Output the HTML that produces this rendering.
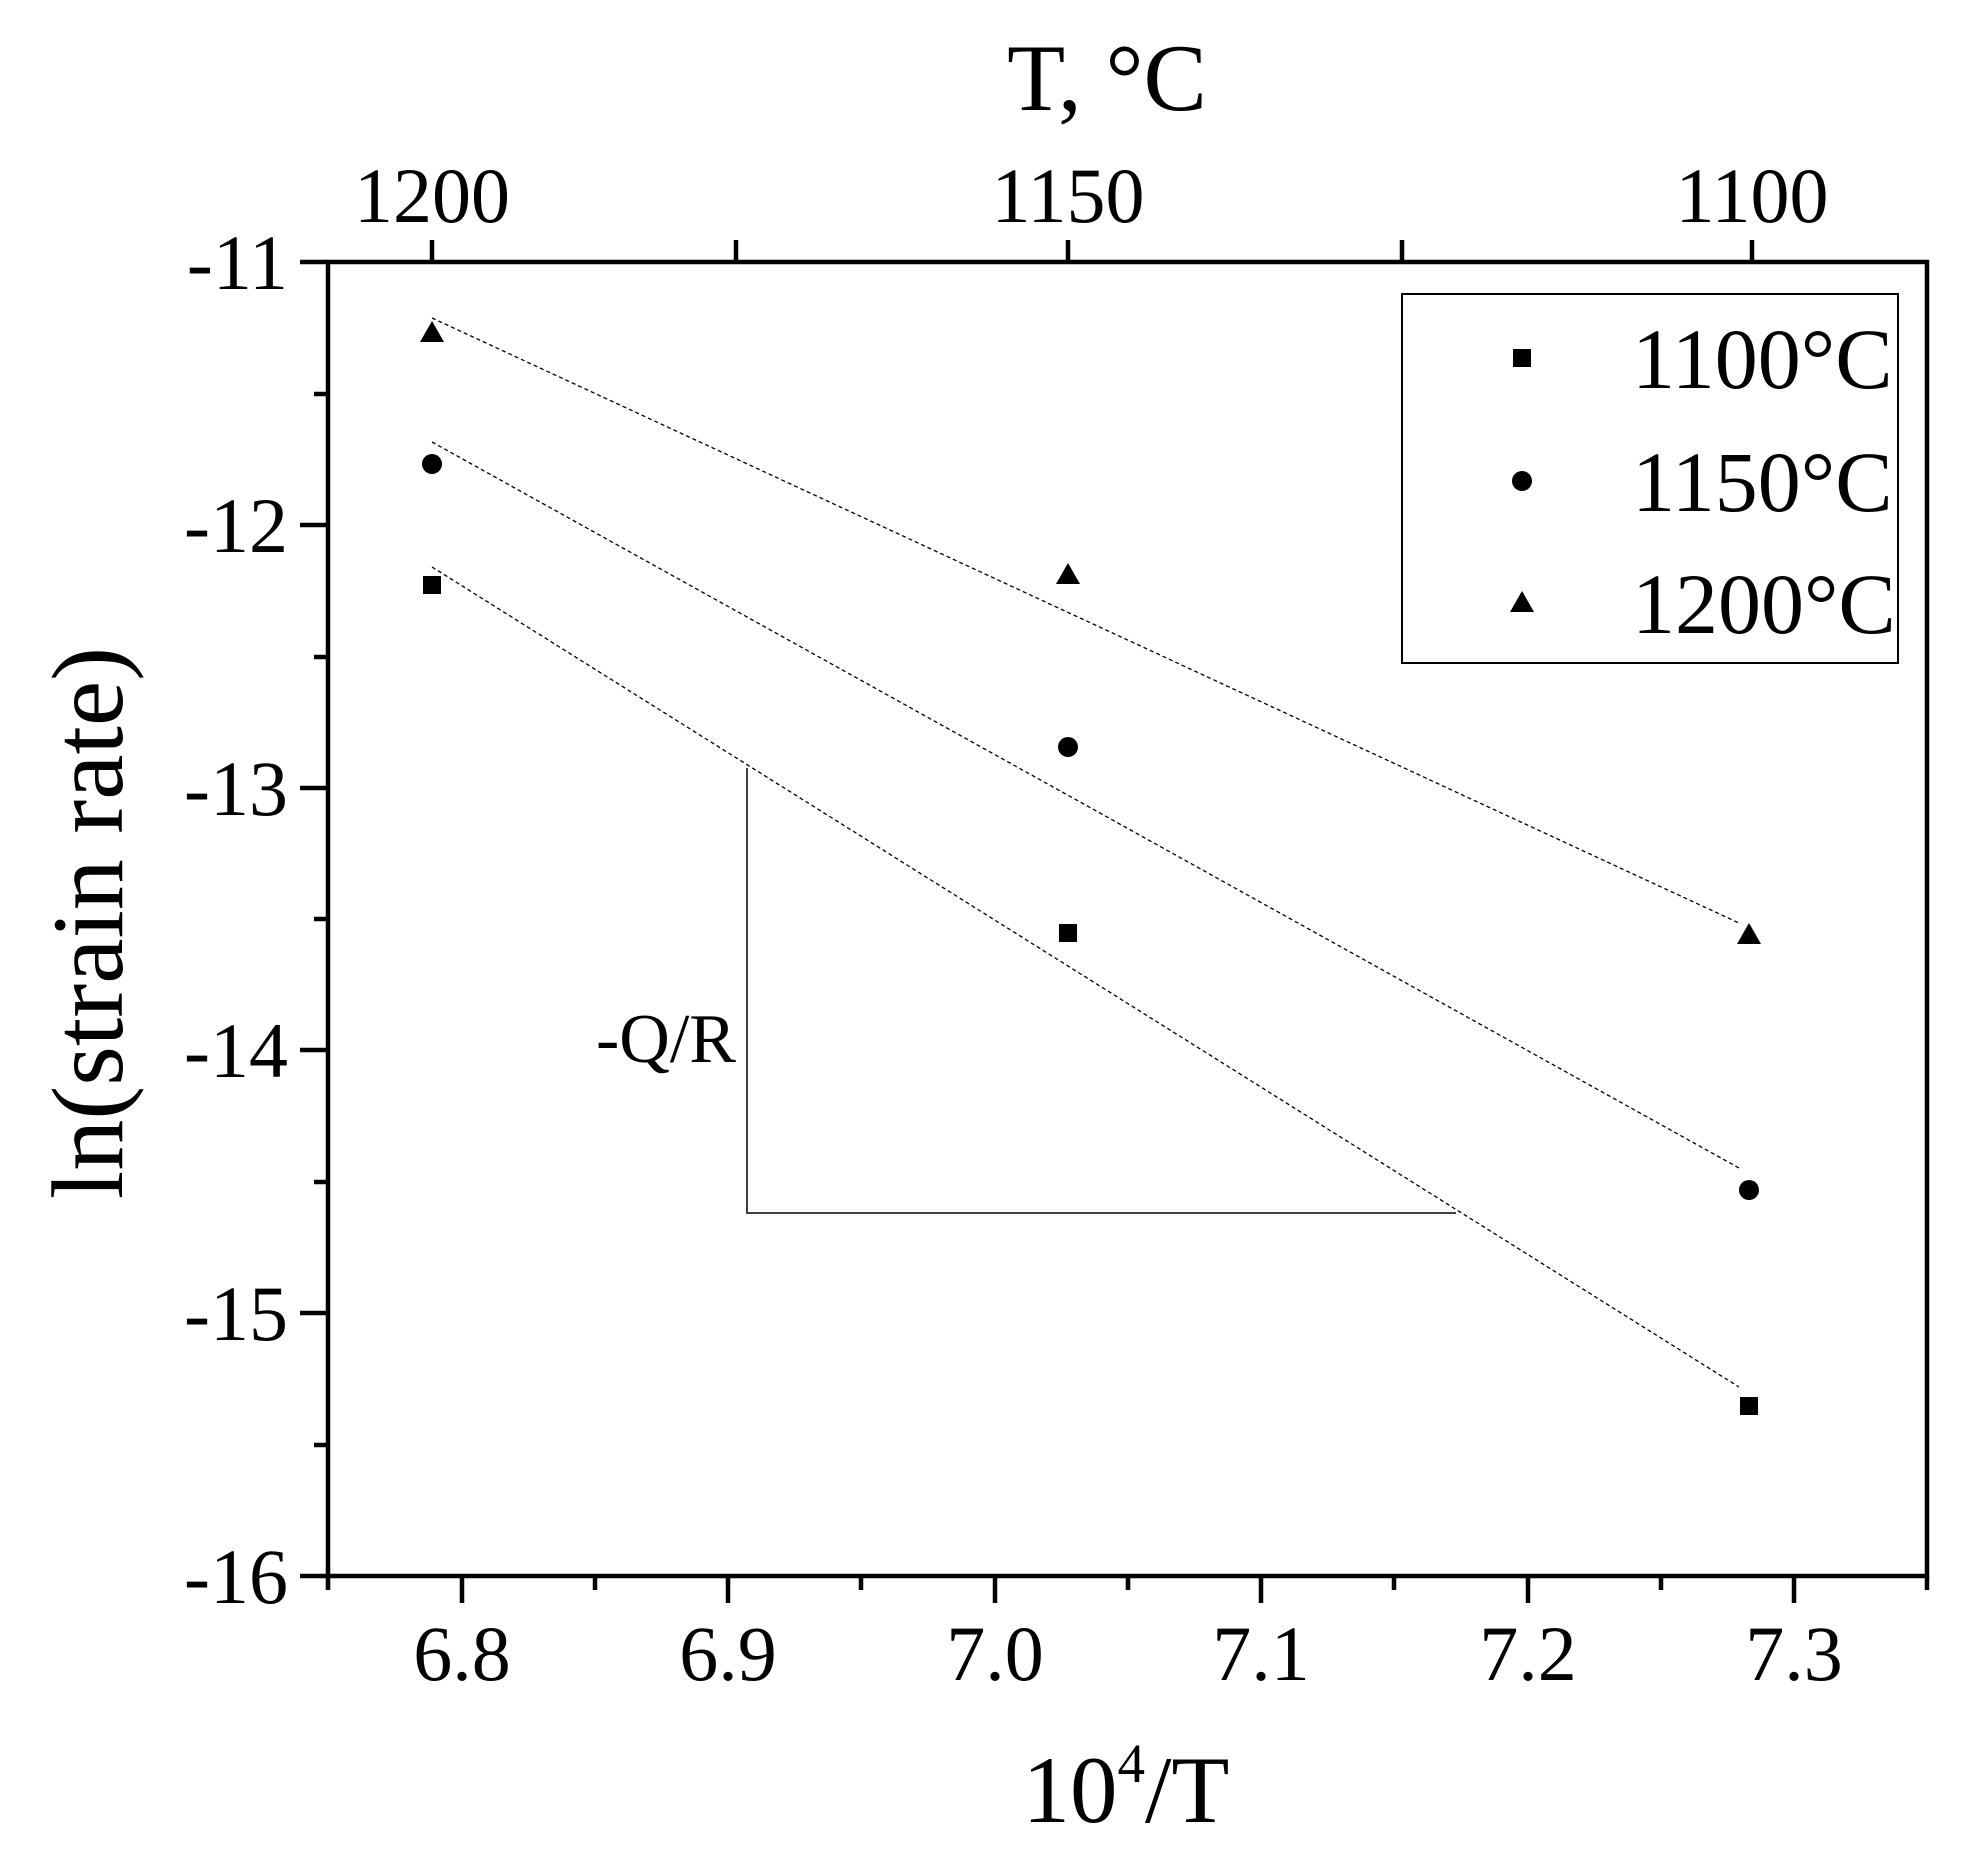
<!DOCTYPE html>
<html><head><meta charset="utf-8"><style>html,body{margin:0;padding:0;background:#fff}</style></head>
<body>
<svg width="1970" height="1869" viewBox="0 0 1970 1869" xmlns="http://www.w3.org/2000/svg" font-family="'Liberation Serif', serif" fill="#000">
<rect width="1970" height="1869" fill="#fff"/>
<g stroke="#000" stroke-width="4.5" fill="none">
<rect x="328" y="262" width="1599" height="1314"/>
<path d="M462,1576V1603 M728,1576V1603 M995,1576V1603 M1261,1576V1603 M1528,1576V1603 M1794,1576V1603
M328,1576V1590 M595,1576V1590 M861,1576V1590 M1128,1576V1590 M1394,1576V1590 M1661,1576V1590 M1927,1576V1590"/>
<path d="M300,262H328 M300,525H328 M300,788H328 M300,1050H328 M300,1313H328 M300,1576H328
M314,394H328 M314,657H328 M314,919H328 M314,1182H328 M314,1445H328"/>
<path d="M432,262V240 M1068,262V240 M1752,262V240 M736,262V240 M1402,262V240"/>
</g>
<g stroke="#000" stroke-width="1.3" stroke-dasharray="4,3" fill="none">
<line x1="432" y1="318" x2="1739" y2="923"/>
<line x1="432" y1="442" x2="1739" y2="1168"/>
<line x1="432" y1="567" x2="1739" y2="1387"/>
</g>
<path d="M747,768V1213H1456" stroke="#000" stroke-width="1.5" fill="none"/>
<text x="666" y="1062" font-size="70" text-anchor="middle">-Q/R</text>
<g>
<polygon points="432,321 444,342 420,342"/>
<polygon points="1068,563 1080,584 1056,584"/>
<polygon points="1749,923 1761,944 1737,944"/>
<circle cx="432" cy="464" r="10"/>
<circle cx="1068" cy="747" r="10"/>
<circle cx="1749" cy="1190" r="10"/>
<rect x="423" y="576" width="18" height="18"/>
<rect x="1059" y="924" width="18" height="18"/>
<rect x="1740" y="1397" width="18" height="18"/>
</g>
<rect x="1402" y="294" width="496" height="369" fill="#fff" stroke="#000" stroke-width="2"/>
<rect x="1513" y="349" width="18" height="18"/>
<circle cx="1522" cy="481" r="10"/>
<polygon points="1522,591 1534,612 1510,612"/>
<g font-size="86">
<text x="1632" y="388">1100°C</text>
<text x="1632" y="511">1150°C</text>
<text x="1632" y="633">1200°C</text>
</g>
<g font-size="78" text-anchor="middle">
<text x="462" y="1680">6.8</text>
<text x="728" y="1680">6.9</text>
<text x="995" y="1680">7.0</text>
<text x="1261" y="1680">7.1</text>
<text x="1528" y="1680">7.2</text>
<text x="1794" y="1680">7.3</text>
<text x="432" y="222">1200</text>
<text x="1068" y="222">1150</text>
<text x="1752" y="222">1100</text>
</g>
<g font-size="78" text-anchor="end">
<text x="288" y="289">-11</text>
<text x="288" y="552">-12</text>
<text x="288" y="815">-13</text>
<text x="288" y="1077">-14</text>
<text x="288" y="1340">-15</text>
<text x="288" y="1603">-16</text>
</g>
<text x="1107" y="110" font-size="95" text-anchor="middle">T, °C</text>
<text x="1126" y="1822" font-size="95" text-anchor="middle">10<tspan font-size="55" dy="-40">4</tspan><tspan dy="40">/T</tspan></text>
<text transform="translate(122,923) rotate(-90)" font-size="102" text-anchor="middle">ln(strain rate)</text>
</svg>
</body></html>
